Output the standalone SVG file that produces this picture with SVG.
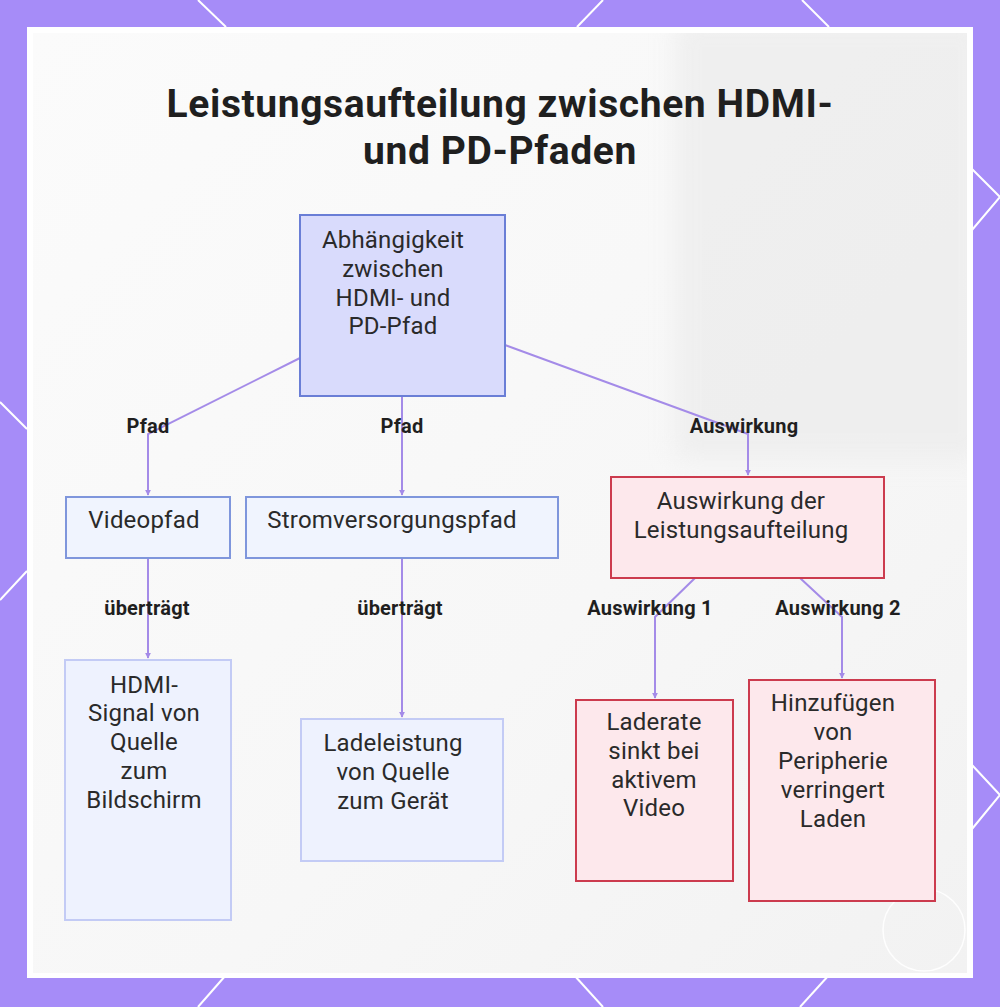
<svg xmlns="http://www.w3.org/2000/svg" width="1000" height="1007" viewBox="0 0 1000 1007">
<defs>
<style>
.title{font-family:Roboto,"Liberation Sans",sans-serif;font-weight:700;font-size:39px;letter-spacing:0.6px;fill:#1f1f1f;text-anchor:middle}
.nt{font-family:Roboto,"Liberation Sans",sans-serif;font-size:24px;letter-spacing:0.2px;fill:#2a2a2a;text-anchor:middle}
.el{font-family:Roboto,"Liberation Sans",sans-serif;font-weight:700;font-size:20px;letter-spacing:0.2px;fill:#1f1f1f;text-anchor:middle}
.blue{fill:#f0f4fe;stroke:#7f96dc;stroke-width:2}
.lblue{fill:#eef2fe;stroke:#c3cbf5;stroke-width:2}
.root{fill:#d9dbfc;stroke:#6a7ed6;stroke-width:2}
.red{fill:#fde8ec;stroke:#cc3b4e;stroke-width:2}
.conn{fill:none;stroke:#a48be8;stroke-width:2}
.deco{stroke:#ffffff;stroke-width:2;fill:none}
</style>
<marker id="arr" viewBox="0 0 8 8" refX="7" refY="4" markerWidth="6" markerHeight="6" orient="auto" markerUnits="userSpaceOnUse">
<path d="M0,0 L8,4 L0,8 z" fill="#a48be8"/>
</marker>
<linearGradient id="bg" x1="0" y1="0" x2="1" y2="1">
<stop offset="0" stop-color="#fbfbfb"/>
<stop offset="0.6" stop-color="#f7f7f7"/>
<stop offset="1" stop-color="#f2f2f2"/>
</linearGradient>
<filter id="blur" x="-20%" y="-20%" width="140%" height="140%">
<feGaussianBlur stdDeviation="12"/>
</filter>
<clipPath id="panel"><rect x="33" y="33" width="934" height="940"/></clipPath>
</defs>
<rect x="0" y="0" width="1000" height="1007" fill="#a68cf8"/>
<g class="deco">
<line x1="198" y1="0" x2="226" y2="27"/>
<line x1="603" y1="0" x2="577" y2="27"/>
<line x1="802" y1="0" x2="829" y2="27"/>
<polyline points="972,169 1000,197 972,230"/>
<polyline points="972,765 1000,795 972,829"/>
<line x1="0" y1="402" x2="27" y2="429"/>
<line x1="27" y1="571" x2="0" y2="600"/>
<line x1="226" y1="975" x2="198" y2="1007"/>
<line x1="574" y1="975" x2="603" y2="1007"/>
<line x1="829" y1="975" x2="800" y2="1007"/>
</g>
<rect x="27" y="27" width="946" height="951" fill="#ffffff"/>
<rect x="33" y="33" width="934" height="940" fill="url(#bg)"/>
<g clip-path="url(#panel)">
<rect x="675" y="20" width="310" height="440" fill="#ececec" opacity="0.75" filter="url(#blur)"/>
</g>
<circle cx="924" cy="930" r="41" fill="none" stroke="#ffffff" stroke-width="1.5" opacity="0.9"/>

<text class="title" x="500" y="117">Leistungsaufteilung zwischen HDMI-</text>
<text class="title" x="500" y="164">und PD-Pfaden</text>

<g id="connectors">
<polyline class="conn" points="300,358 148,434 148,495" marker-end="url(#arr)"/>
<polyline class="conn" points="402,396 402,495" marker-end="url(#arr)"/>
<polyline class="conn" points="505,345 748,434 748,475" marker-end="url(#arr)"/>
<polyline class="conn" points="148,558 148,658" marker-end="url(#arr)"/>
<polyline class="conn" points="402,558 402,717" marker-end="url(#arr)"/>
<polyline class="conn" points="695,578 655,617 655,698" marker-end="url(#arr)"/>
<polyline class="conn" points="800,578 842,617 842,678" marker-end="url(#arr)"/>
<text class="el" x="148" y="433">Pfad</text>
<text class="el" x="402" y="433">Pfad</text>
<text class="el" x="744" y="433">Auswirkung</text>
<text class="el" x="147" y="615">überträgt</text>
<text class="el" x="400" y="615">überträgt</text>
<text class="el" x="650" y="615">Auswirkung 1</text>
<text class="el" x="838" y="615">Auswirkung 2</text>
</g>

<g id="root">
<rect class="root" x="300" y="215" width="205" height="181"/>
<text class="nt" x="393" y="248">Abhängigkeit</text>
<text class="nt" x="393" y="277">zwischen</text>
<text class="nt" x="393" y="306">HDMI- und</text>
<text class="nt" x="393" y="334">PD-Pfad</text>
</g>
<g id="videopfad">
<rect class="blue" x="66" y="497" width="164" height="61"/>
<text class="nt" x="144" y="528">Videopfad</text>
</g>
<g id="stromversorgungspfad">
<rect class="blue" x="246" y="497" width="312" height="61"/>
<text class="nt" x="392" y="528">Stromversorgungspfad</text>
</g>
<g id="auswirkung">
<rect class="red" x="611" y="477" width="273" height="101"/>
<text class="nt" x="741" y="509">Auswirkung der</text>
<text class="nt" x="741" y="538">Leistungsaufteilung</text>
</g>
<g id="hdmi-signal">
<rect class="lblue" x="65" y="660" width="166" height="260"/>
<text class="nt" x="144" y="693">HDMI-</text>
<text class="nt" x="144" y="721">Signal von</text>
<text class="nt" x="144" y="750">Quelle</text>
<text class="nt" x="144" y="779">zum</text>
<text class="nt" x="144" y="808">Bildschirm</text>
</g>
<g id="ladeleistung">
<rect class="lblue" x="301" y="719" width="202" height="142"/>
<text class="nt" x="393" y="751">Ladeleistung</text>
<text class="nt" x="393" y="780">von Quelle</text>
<text class="nt" x="393" y="809">zum Gerät</text>
</g>
<g id="laderate">
<rect class="red" x="576" y="700" width="157" height="181"/>
<text class="nt" x="654" y="730">Laderate</text>
<text class="nt" x="654" y="759">sinkt bei</text>
<text class="nt" x="654" y="788">aktivem</text>
<text class="nt" x="654" y="816">Video</text>
</g>
<g id="hinzufuegen">
<rect class="red" x="749" y="680" width="186" height="221"/>
<text class="nt" x="833" y="711">Hinzufügen</text>
<text class="nt" x="833" y="740">von</text>
<text class="nt" x="833" y="769">Peripherie</text>
<text class="nt" x="833" y="798">verringert</text>
<text class="nt" x="833" y="827">Laden</text>
</g>
</svg>
